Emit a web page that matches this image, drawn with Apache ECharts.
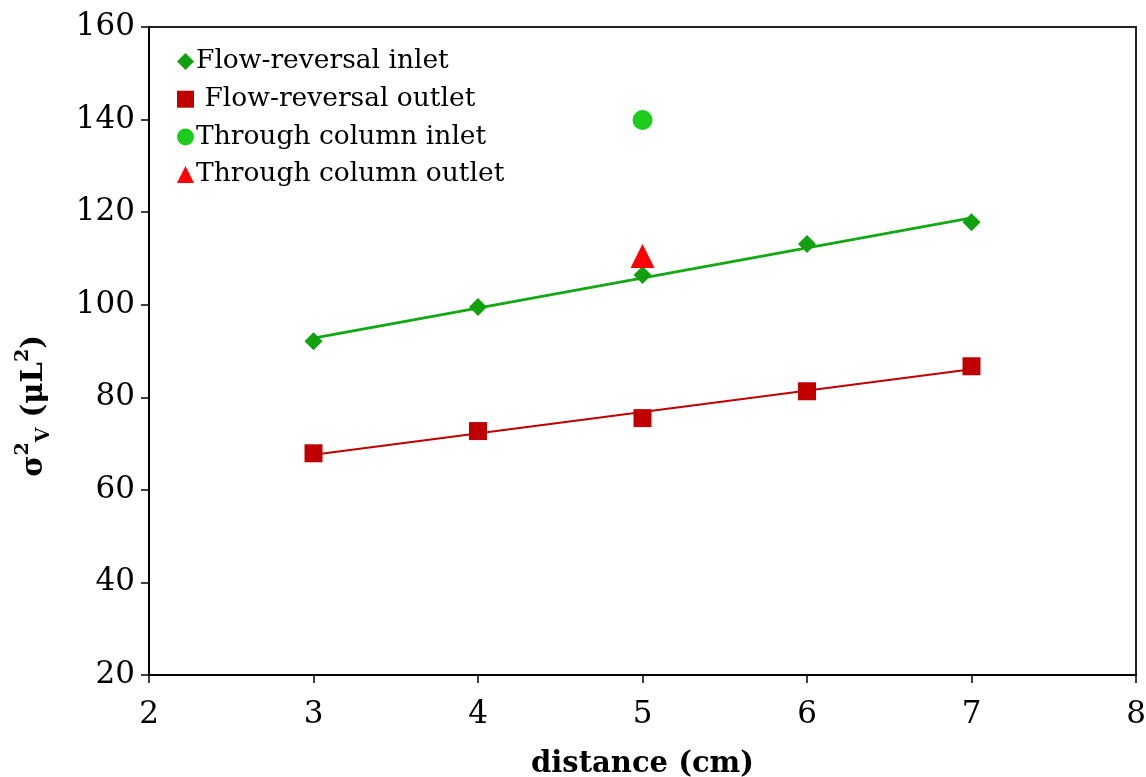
<!DOCTYPE html>
<html>
<head>
<meta charset="utf-8">
<script src="https://cdn.jsdelivr.net/npm/echarts@6/dist/echarts.min.js"></script>
<style>
  html, body { margin: 0; padding: 0; background: #fff; }
  #main { width: 1146px; height: 777px; }
</style>
</head>
<body>
<div id="main"></div>
<script>
// data
var distance = [3, 4, 5, 6, 7];
var frInlet = [92.1, 99.5, 106.4, 113.1, 117.8];
var frOutlet = [67.9, 72.7, 75.5, 81.3, 86.7];
var tcDistance = 5;
var tcInlet = 139.9;
var tcOutlet = 110.5;

var serifFont = 'DejaVu Serif';

// least squares fit for the trend lines
function fit(xs, ys) {
    var n = xs.length, sx = 0, sy = 0, sxx = 0, sxy = 0;
    for (var i = 0; i < n; i++) {
        sx += xs[i]; sy += ys[i];
        sxx += xs[i] * xs[i]; sxy += xs[i] * ys[i];
    }
    var b = (n * sxy - sx * sy) / (n * sxx - sx * sx);
    var a = (sy - b * sx) / n;
    var x0 = xs[0], x1 = xs[n - 1];
    return [[x0, a + b * x0], [x1, a + b * x1]];
}

function pairs(xs, ys) {
    return xs.map(function (x, i) { return [x, ys[i]]; });
}

var chart = echarts.init(document.getElementById('main'));

var option = {
    backgroundColor: '#fff',
    animation: false,
    grid: {
        left: 149, right: 10, top: 27, bottom: 102,
        outerBoundsMode: 'none',
        containLabel: false,
        show: true, borderColor: '#222', borderWidth: 2
    },
    legend: {
        orient: 'vertical',
        left: 172, top: 43,
        itemGap: 10.7,
        itemWidth: 17, itemHeight: 17,
        textStyle: { fontFamily: serifFont, fontSize: 26.5, color: '#000', padding: [0, 0, 0, -3] },
        data: [
            { name: 'Flow-reversal inlet', icon: 'diamond' },
            { name: ' Flow-reversal outlet', icon: 'rect' },
            { name: 'Through column inlet', icon: 'circle' },
            { name: 'Through column outlet', icon: 'triangle' }
        ]
    },
    xAxis: {
        type: 'value',
        min: 2, max: 8, interval: 1,
        name: 'distance (cm)',
        nameLocation: 'middle',
        nameGap: 75,
        nameTextStyle: { fontFamily: serifFont, fontSize: 29, fontWeight: 'bold', color: '#000' },
        axisLine: { show: true, lineStyle: { color: '#000', width: 2 } },
        axisTick: { show: true, inside: false, length: 8, lineStyle: { color: '#000', width: 1.5 } },
        axisLabel: { fontFamily: serifFont, fontSize: 31, color: '#000', margin: 24 },
        splitLine: { show: false }
    },
    yAxis: {
        type: 'value',
        min: 20, max: 160, interval: 20,
        name: '{b|σ}{sup|2}{sub|V}{b| (μL}{sup|2}{b|)}',
        nameLocation: 'middle',
        nameRotate: 90,
        nameGap: 95,
        nameTextStyle: {
            fontFamily: serifFont, fontSize: 29, fontWeight: 'bold', color: '#000',
            padding: [0, 110, 0, 0],
            rich: {
                b: { fontFamily: serifFont, fontSize: 29, fontWeight: 'bold', color: '#000', lineHeight: 40, verticalAlign: 'middle' },
                sup: { fontFamily: serifFont, fontSize: 19, fontWeight: 'bold', color: '#000', lineHeight: 40, verticalAlign: 'top' },
                sub: { fontFamily: serifFont, fontSize: 19, fontWeight: 'bold', color: '#000', lineHeight: 40, verticalAlign: 'bottom' }
            }
        },
        axisLine: { show: true, lineStyle: { color: '#000', width: 2 } },
        axisTick: { show: true, inside: false, length: 8, lineStyle: { color: '#000', width: 1.5 } },
        axisLabel: { fontFamily: serifFont, fontSize: 31, color: '#000', margin: 14 },
        splitLine: { show: false }
    },
    series: [
        {
            name: 'fit-inlet', type: 'line', data: fit(distance, frInlet),
            showSymbol: false, silent: true,
            lineStyle: { color: '#14A814', width: 2.8 }, z: 1
        },
        {
            name: 'fit-outlet', type: 'line', data: fit(distance, frOutlet),
            showSymbol: false, silent: true,
            lineStyle: { color: '#C00000', width: 2.2 }, z: 1
        },
        {
            name: 'Flow-reversal inlet', type: 'scatter', data: pairs(distance, frInlet),
            symbol: 'diamond', symbolSize: 18,
            itemStyle: { color: '#10A010', opacity: 1 }, z: 3
        },
        {
            name: ' Flow-reversal outlet', type: 'scatter', data: pairs(distance, frOutlet),
            symbol: 'rect', symbolSize: 18,
            itemStyle: { color: '#C00000', opacity: 1 }, z: 3
        },
        {
            name: 'Through column inlet', type: 'scatter', data: [[tcDistance, tcInlet]],
            symbol: 'circle', symbolSize: 20,
            itemStyle: { color: '#1BCC1B', opacity: 1 }, z: 3
        },
        {
            name: 'Through column outlet', type: 'scatter', data: [[tcDistance, tcOutlet]],
            symbol: 'triangle', symbolSize: 24,
            itemStyle: { color: '#FF0000', opacity: 1 }, z: 4
        }
    ]
};

chart.setOption(option);
</script>
</body>
</html>
